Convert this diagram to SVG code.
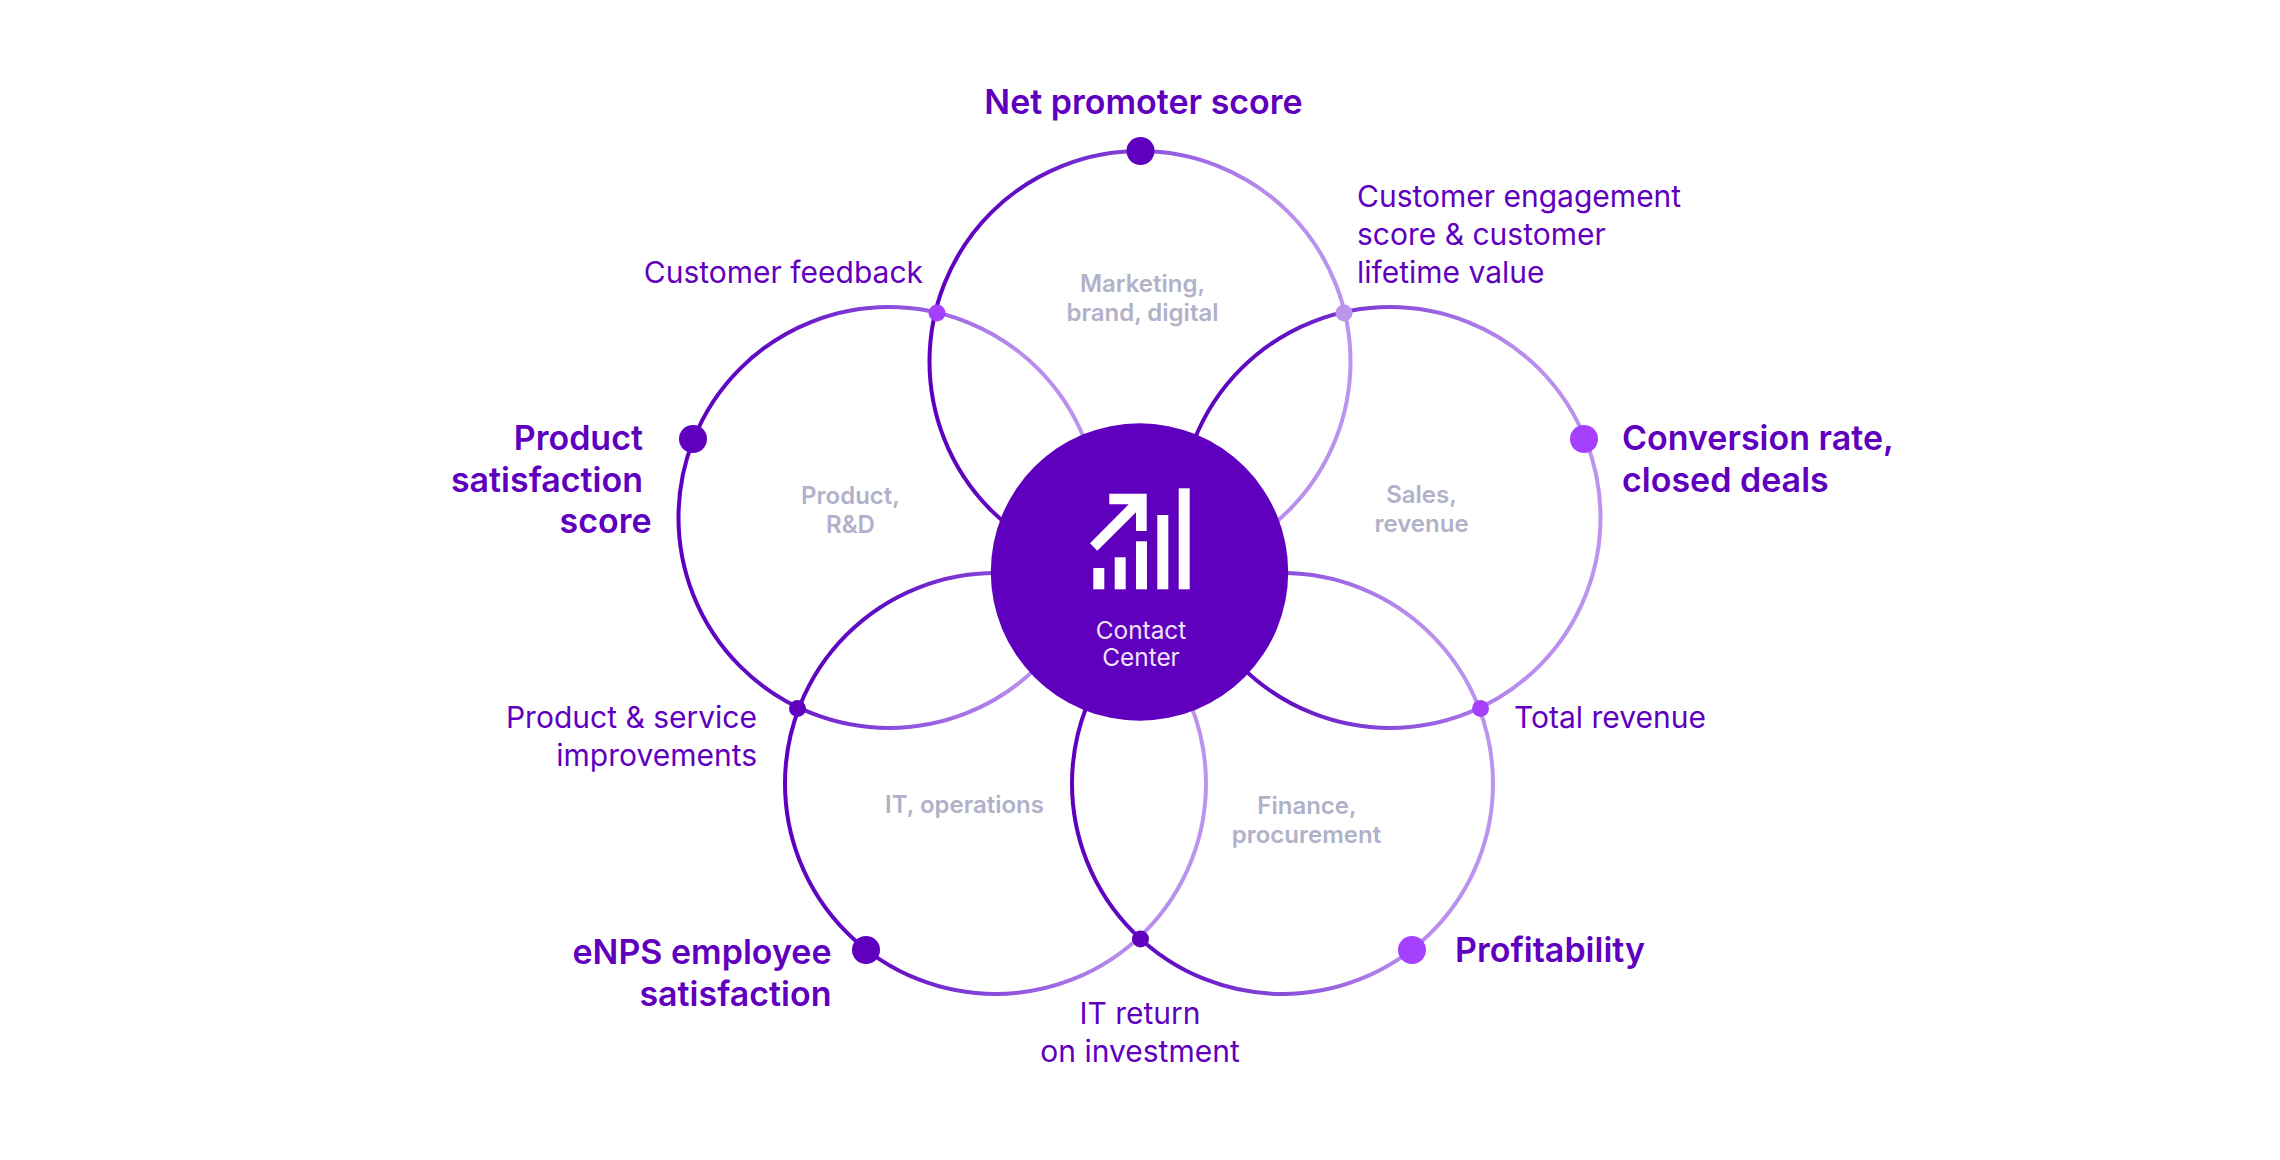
<svg xmlns="http://www.w3.org/2000/svg" width="2280" height="1160" viewBox="0 0 2280 1160">
<style>
text{font-family:Inter,"Liberation Sans",sans-serif}
.ring{fill:none;stroke-width:4;stroke:url(#g)}
.b{font-size:34px;font-weight:600;fill:#5F00BF}
.r{font-size:30px;font-weight:400;fill:#5F00BF}
.a{font-size:24px;font-weight:600;fill:#B1B1C9;text-anchor:middle}
.c{font-size:24.4px;font-weight:400;fill:#EFE4FB;text-anchor:middle}
.e{text-anchor:end}.m{text-anchor:middle}
.d{fill:#5F00BF}.p{fill:#A640FF}.l{fill:#BC94EA}
</style>
<defs><linearGradient id="g" x1="0" y1="0" x2="1" y2="0"><stop offset="0" stop-color="#5F00BF"/><stop offset="0.25" stop-color="#6210C4"/><stop offset="0.5" stop-color="#8A4CDC"/><stop offset="0.8" stop-color="#B88CEC"/><stop offset="1" stop-color="#BC94EE"/></linearGradient></defs>
<rect width="2280" height="1160" fill="#fff"/>
<g id="connectors">
<circle class="ring" cx="1140" cy="361.5" r="210.5"/>
<circle class="ring" cx="889" cy="517.5" r="210.5"/>
<circle class="ring" cx="1390" cy="517.5" r="210.5"/>
<circle class="ring" cx="995.5" cy="783.5" r="210.5"/>
<circle class="ring" cx="1282.5" cy="783.5" r="210.5"/>
</g>
<g id="center"><circle class="d" cx="1139.5" cy="572" r="148.7"/>
<g fill="#fff"><rect x="1093.3" y="568" width="11" height="21.3"/><rect x="1114.7" y="557.3" width="11" height="32"/><rect x="1136" y="541.3" width="11" height="48"/><rect x="1157.3" y="515" width="11" height="74.3"/><rect x="1178.7" y="488.3" width="11" height="101"/><polygon points="1109.3,493.7 1146.7,493.7 1146.7,531 1136,531 1136,512.3 1097.3,550.7 1090,543.3 1128.7,504.3 1109.3,504.3"/></g>
<text class="c" x="1141" y="639">Contact</text><text class="c" x="1141" y="666">Center</text></g>
<g id="n-top"><circle class="d" cx="1140.5" cy="151" r="14"/><text class="b m" x="1143.5" y="114">Net promoter score</text><text class="a" x="1142.5" y="292">Marketing,</text><text class="a" x="1142.5" y="321">brand, digital</text></g>
<g id="n-left"><circle class="d" cx="693" cy="439" r="14"/><text class="b e" x="643" y="450">Product</text><text class="b e" x="643" y="492">satisfaction</text><text class="b e" x="651.5" y="533">score</text><text class="a" x="850.5" y="504">Product,</text><text class="a" x="850.5" y="533">R&amp;D</text></g>
<g id="n-right"><circle class="p" cx="1584" cy="439" r="14"/><text class="b" x="1622" y="450">Conversion rate,</text><text class="b" x="1622" y="492">closed deals</text><text class="a" x="1421.5" y="503">Sales,</text><text class="a" x="1421.5" y="532">revenue</text></g>
<g id="n-bl"><circle class="d" cx="866" cy="950" r="14"/><text class="b e" x="831.5" y="964">eNPS employee</text><text class="b e" x="831.5" y="1006">satisfaction</text><text class="a" x="964.5" y="813">IT, operations</text></g>
<g id="n-br"><circle class="p" cx="1412" cy="950" r="14"/><text class="b" x="1455" y="962">Profitability</text><text class="a" x="1307" y="814">Finance,</text><text class="a" x="1306.5" y="843">procurement</text></g>
<g id="j-feedback"><circle class="p" cx="937" cy="313" r="8.5"/><text class="r e" x="923" y="282.5">Customer feedback</text></g>
<g id="j-engagement"><circle class="l" cx="1344" cy="313" r="8.5"/><text class="r" x="1357" y="207">Customer engagement</text><text class="r" x="1357" y="245">score &amp; customer</text><text class="r" x="1357" y="282.5">lifetime value</text></g>
<g id="j-improve"><circle class="d" cx="797.5" cy="708.5" r="8.5"/><text class="r e" x="757" y="728">Product &amp; service</text><text class="r e" x="757" y="766">improvements</text></g>
<g id="j-revenue"><circle class="p" cx="1480.5" cy="708.5" r="8.5"/><text class="r" x="1514" y="728">Total revenue</text></g>
<g id="j-it"><circle class="d" cx="1140.5" cy="939" r="8.5"/><text class="r m" x="1140" y="1024">IT return</text><text class="r m" x="1140" y="1062">on investment</text></g>
</svg>
